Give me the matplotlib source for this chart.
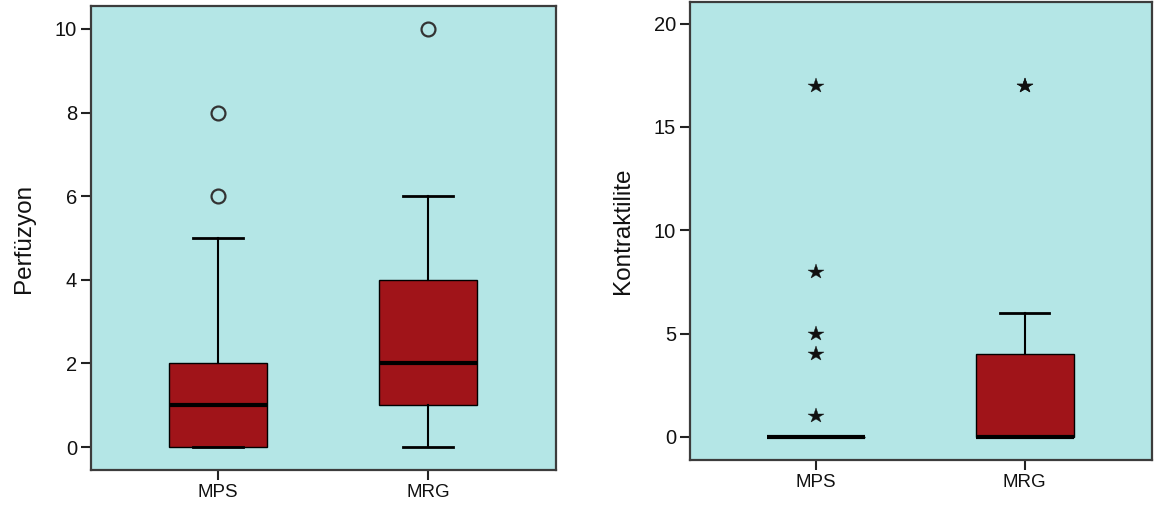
import matplotlib
matplotlib.use("Agg")
import matplotlib.pyplot as plt

plt.rcParams['font.family'] = ['Liberation Sans', 'DejaVu Sans']

categories = ["MPS", "MRG"]

# Perfüzyon box statistics
perf_q1 = [0, 1]
perf_med = [1, 2]
perf_q3 = [2, 4]
perf_whislo = [0, 0]
perf_whishi = [5, 6]
perf_outliers = [[6, 8], [10]]

# Kontraktilite box statistics
kont_q1 = [0, 0]
kont_med = [0, 0]
kont_q3 = [0, 4]
kont_whislo = [0, 0]
kont_whishi = [0, 6]
kont_outliers = [[1, 4, 5, 8, 17], [17, 17]]

perf_ticks = [0, 2, 4, 6, 8, 10]
kont_ticks = [0, 5, 10, 15, 20]

BG = "#B4E6E6"
BOX = "#A01419"
FRAME = "#3C3C3C"

fig = plt.figure(figsize=(11.56, 5.15), dpi=100)
ax1 = fig.add_axes([91/1156, 1-470/515, (556-91)/1156, (470-6)/515])
ax2 = fig.add_axes([690/1156, 1-460/515, (1152-690)/1156, (460-2)/515])


def stats(q1, med, q3, lo, hi, fl):
    return [dict(q1=q1[i], med=med[i], q3=q3[i], whislo=lo[i], whishi=hi[i],
                 fliers=fl[i], label=categories[i]) for i in range(len(categories))]


def draw(ax, st, marker, msize, ylim, yticks, ylabel, lpad):
    ax.set_facecolor(BG)
    ax.bxp(st, positions=[1, 2], widths=0.47, patch_artist=True,
           boxprops=dict(facecolor=BOX, edgecolor="black", linewidth=1.0),
           medianprops=dict(color="black", linewidth=3.0, solid_capstyle="butt"),
           whiskerprops=dict(color="black", linewidth=1.5),
           capprops=dict(color="black", linewidth=2.0),
           capwidths=0.235,
           flierprops=dict(marker=marker, markersize=msize,
                           markerfacecolor="none" if marker == "o" else "#111111",
                           markeredgecolor="#333333" if marker == "o" else "#111111",
                           markeredgewidth=1.6 if marker == "o" else 0.3,
                           linestyle="none"))
    ax.set_xlim(0.395, 2.61)
    ax.set_ylim(*ylim)
    ax.set_yticks(yticks)
    ax.set_xticks([1, 2])
    ax.set_xticklabels(categories)
    ax.tick_params(axis="both", direction="out", length=7, width=1.5,
                   color="#222222", labelsize=13.5, labelcolor="#111111", pad=3)
    ax.tick_params(axis="y", labelsize=14.5)
    for s in ax.spines.values():
        s.set_color(FRAME)
        s.set_linewidth(1.6)
    ax.set_ylabel(ylabel, fontsize=17.5, color="#111111", labelpad=lpad)


draw(ax1, stats(perf_q1, perf_med, perf_q3, perf_whislo, perf_whishi, perf_outliers),
     "o", 10, (-0.55, 10.55), perf_ticks, "Perfüzyon", 14)
draw(ax2, stats(kont_q1, kont_med, kont_q3, kont_whislo, kont_whishi, kont_outliers),
     "*", 11.5, (-1.12, 21.05), kont_ticks, "Kontraktilite", 14)

fig.savefig("out.png", dpi=100)
